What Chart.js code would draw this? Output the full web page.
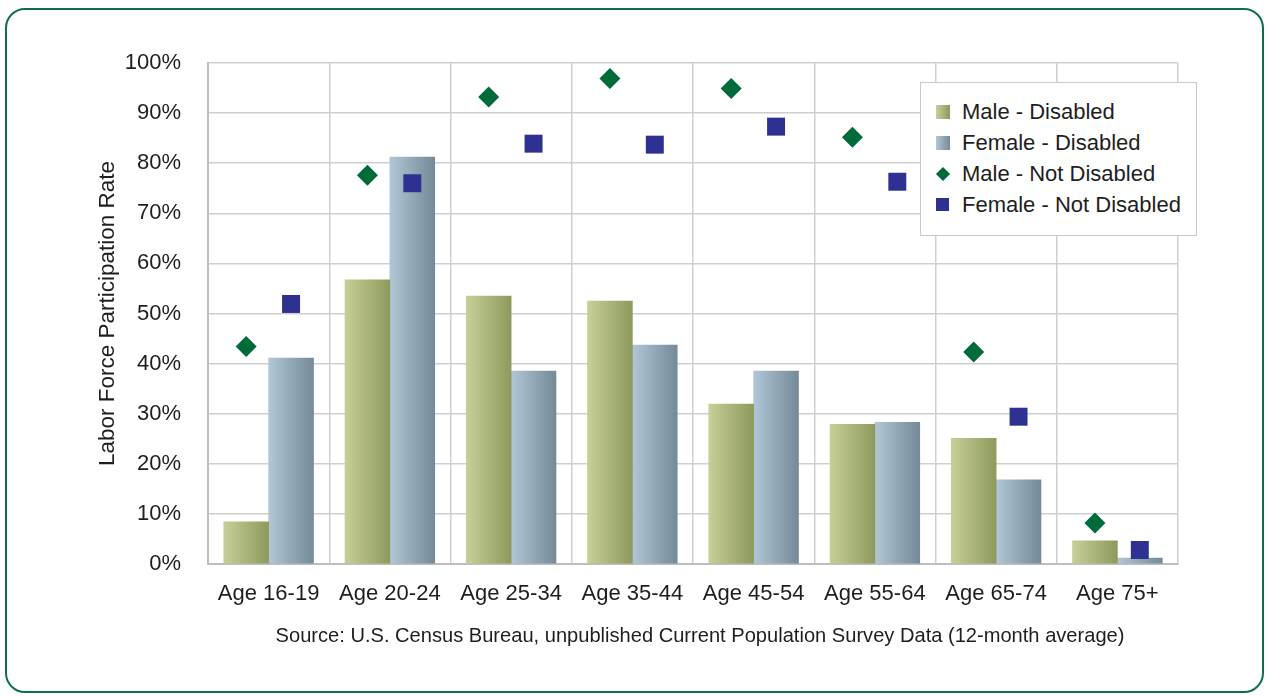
<!DOCTYPE html>
<html>
<head>
<meta charset="utf-8">
<script src="https://cdn.jsdelivr.net/npm/chart.js@4"></script>
<style>
  html, body { margin: 0; padding: 0; background: #fff; }
  body { width: 1268px; height: 696px; position: relative; overflow: hidden; font-family: 'Liberation Sans', Arial, sans-serif; color: #1e1e1e; }
  #frame { position: absolute; left: 5px; top: 8px; width: 1255px; height: 681px; border: 2.5px solid #0e7046; border-radius: 20px; }
  #wrap { position: absolute; left: 0; top: 0; width: 1268px; height: 696px; }
  #legend { position: absolute; left: 920px; top: 82px; width: 277px; height: 154px; border: 1.5px solid #c9c9c9; background: #fff; box-sizing: border-box; padding-top: 13px; }
  #legend .item { height: 31px; display: flex; align-items: center; font-size: 22px; color: #1e1e1e; }
  #legend .sw { width: 26px; margin-left: 15px; margin-right: 0; display: flex; align-items: center; }
  #source { position: absolute; left: 66px; width: 1268px; top: 624px; text-align: center; font-size: 20.1px; color: #1e1e1e; }
</style>
</head>
<body>
<div id="frame"></div>
<div id="wrap"><canvas id="myChart"></canvas></div>
<div id="legend"></div>
<div id="source">Source: U.S. Census Bureau, unpublished Current Population Survey Data (12-month average)</div>
<script>
const categories = ['Age 16-19', 'Age 20-24', 'Age 25-34', 'Age 35-44', 'Age 45-54', 'Age 55-64', 'Age 65-74', 'Age 75+'];
const maleDisabled = [8.4, 56.7, 53.5, 52.5, 31.9, 27.9, 25.1, 4.6];
const femaleDisabled = [41.1, 81.2, 38.5, 43.7, 38.5, 28.3, 16.8, 1.2];
const maleNotDisabled = [43.4, 77.6, 93.2, 96.9, 94.9, 85.2, 42.3, 8.2];
const femaleNotDisabled = [51.9, 76.0, 83.9, 83.7, 87.3, 76.3, 29.4, 2.8];
const yTickValues = [0, 10, 20, 30, 40, 50, 60, 70, 80, 90, 100];

const groupPct = 0.74;            // share of a category used by the bar pair
const off = groupPct / 4;         // centre of each bar from the category centre
const maleBarColors = ['#c6cf97', '#8d9a5c'];
const femaleBarColors = ['#b1c6d6', '#748a98'];
const diamondColor = '#006b3a';
const squareColor = '#2e3192';

Chart.defaults.font.family = "'Liberation Sans', Arial, sans-serif";
Chart.defaults.color = '#1e1e1e';

// gradient across each bar, left to right
const barFill = (stops) => (ctx) => {
  const chart = ctx.chart;
  if (!chart.chartArea || ctx.type !== 'data') return stops[1];
  const xs = chart.scales.x2;
  const c = xs.getPixelForValue(ctx.raw.x);
  const w = xs.getPixelForValue(2 * off) - xs.getPixelForValue(0);
  const g = chart.ctx.createLinearGradient(c - w / 2, 0, c + w / 2, 0);
  g.addColorStop(0, stops[0]);
  g.addColorStop(1, stops[1]);
  return g;
};

const chart = new Chart(document.getElementById('myChart'), {
  data: {
    labels: categories,
    datasets: [
      {
        type: 'bar',
        label: 'Male - Disabled',
        data: maleDisabled.map((v, i) => ({ x: i - off, y: v })),
        xAxisID: 'x2',
        backgroundColor: barFill(maleBarColors),
        grouped: false,
        categoryPercentage: 1.0,
        barPercentage: 1.0,
        order: 2
      },
      {
        type: 'bar',
        label: 'Female - Disabled',
        data: femaleDisabled.map((v, i) => ({ x: i + off, y: v })),
        xAxisID: 'x2',
        backgroundColor: barFill(femaleBarColors),
        grouped: false,
        categoryPercentage: 1.0,
        barPercentage: 1.0,
        order: 2
      },
      {
        type: 'scatter',
        label: 'Male - Not Disabled',
        data: maleNotDisabled.map((v, i) => ({ x: i - off, y: v })),
        xAxisID: 'x2',
        pointStyle: 'rectRot',
        pointRadius: 10.5,
        pointHoverRadius: 10.5,
        backgroundColor: diamondColor,
        borderColor: diamondColor,
        borderWidth: 0,
        order: 1
      },
      {
        type: 'scatter',
        label: 'Female - Not Disabled',
        data: femaleNotDisabled.map((v, i) => ({ x: i + off, y: v })),
        xAxisID: 'x2',
        pointStyle: 'rect',
        pointRadius: 12.7,
        pointHoverRadius: 12.7,
        backgroundColor: squareColor,
        borderColor: squareColor,
        borderWidth: 0,
        order: 0
      }
    ]
  },
  options: {
    responsive: true,
    maintainAspectRatio: false,
    animation: false,
    layout: { padding: { left: 0, top: 63, right: 90, bottom: 0 } },
    plugins: { legend: { display: false }, tooltip: { enabled: false } },
    scales: {
      x: {
        type: 'category',
        offset: true,
        grid: { color: '#cfcfcf', lineWidth: 1.5, offset: true, drawTicks: false },
        border: { color: '#bdbdbd', width: 2 },
        ticks: { font: { size: 22 }, padding: 17, color: '#1e1e1e' },
        afterFit: (s) => { s.height = 696 - 564; }
      },
      x2: {
        type: 'linear',
        min: -0.5,
        max: categories.length - 0.5,
        offset: false,
        grid: { offset: false },
        ticks: { stepSize: 1 },
        display: false
      },
      y: {
        min: 0,
        max: 100,
        afterBuildTicks: (s) => { s.ticks = yTickValues.map(v => ({ value: v })); },
        grid: { color: '#cfcfcf', lineWidth: 1.5, drawTicks: false },
        border: { color: '#bdbdbd', width: 2 },
        ticks: { font: { size: 22 }, padding: 27, color: '#1e1e1e', callback: (v) => v + '%' },
        title: { display: true, text: 'Labor Force Participation Rate', font: { size: 22.5 }, color: '#1e1e1e', padding: { top: 94, bottom: 0 } },
        afterFit: (s) => { s.width = 208; }
      }
    }
  }
});

// html legend
const legendEl = document.getElementById('legend');
chart.data.datasets.forEach((ds, idx) => {
  const item = document.createElement('div');
  item.className = 'item';
  let sw = '';
  if (idx === 0) sw = `<div style="width:14px;height:14px;background:linear-gradient(90deg,${maleBarColors[0]},${maleBarColors[1]})"></div>`;
  if (idx === 1) sw = `<div style="width:14px;height:14px;background:linear-gradient(90deg,${femaleBarColors[0]},${femaleBarColors[1]})"></div>`;
  if (idx === 2) sw = `<div style="width:10px;height:10px;margin-left:2px;background:${diamondColor};transform:rotate(45deg)"></div>`;
  if (idx === 3) sw = `<div style="width:13px;height:13px;background:${squareColor}"></div>`;
  item.innerHTML = `<div class="sw">${sw}</div><span>${ds.label}</span>`;
  legendEl.appendChild(item);
});
</script>
</body>
</html>
